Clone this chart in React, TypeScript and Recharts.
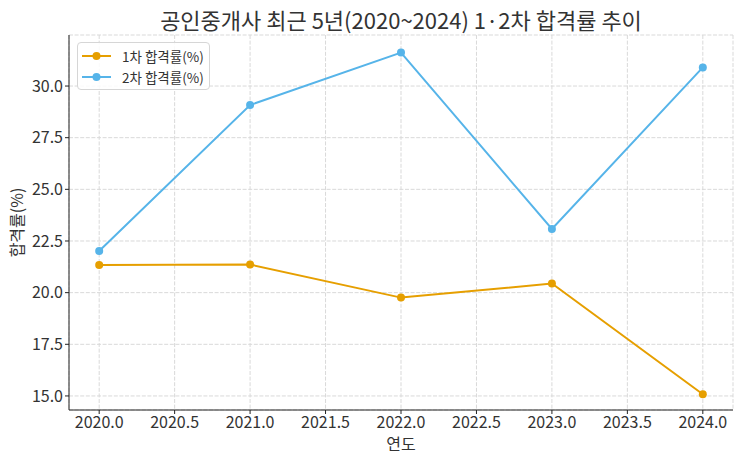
import React from 'react'
import { LineChart, Line, XAxis, YAxis, CartesianGrid, Label } from 'recharts'

const years = [2020, 2021, 2022, 2023, 2024]
const firstRate = [21.34, 21.36, 19.76, 20.44, 15.08]
const secondRate = [22.02, 29.08, 31.62, 23.08, 30.9]
const xTicks = [2020, 2020.5, 2021, 2021.5, 2022, 2022.5, 2023, 2023.5, 2024]
const yTicks = [15, 17.5, 20, 22.5, 25, 27.5, 30]
const seriesNames = ['1차 합격률(%)', '2차 합격률(%)']

const data = years.map((y, i) => ({ year: y, first: firstRate[i], second: secondRate[i] }))

const FONT = '"Noto Sans CJK KR", "Noto Sans", sans-serif'
const ORANGE = '#E69F00'
const BLUE = '#56B4E9'

function LegendBox() {
    const items = [
        { name: seriesNames[0], color: ORANGE },
        { name: seriesNames[1], color: BLUE },
    ]
    return (
        <div style={{
            position: 'absolute', left: 77, top: 42, width: 133, height: 48,
            border: '1px solid #d6d6d6', borderRadius: 4, background: 'rgba(255,255,255,0.85)',
            boxSizing: 'border-box', padding: '3px 0 0 4px', fontFamily: FONT, fontSize: 13.5, color: '#333',
        }}>
            {items.map(it => (
                <div key={it.name} style={{ display: 'flex', alignItems: 'center', height: 20.5 }}>
                    <svg width={30} height={12} style={{ marginRight: 10 }}>
                        <line x1={0} y1={6} x2={29} y2={6} stroke={it.color} strokeWidth={2} />
                        <circle cx={14.5} cy={6} r={4} fill={it.color} />
                    </svg>
                    <span>{it.name}</span>
                </div>
            ))}
        </div>
    )
}

export default function App() {
    const tickStyle = { fill: '#333', fontSize: 16, fontFamily: FONT }
    return (
        <div style={{ position: 'absolute', left: 0, top: 0, width: 743, height: 466, background: '#fff', fontFamily: FONT }}>
            <div style={{
                position: 'absolute', left: 69, width: 664, top: 3, textAlign: 'center',
                fontSize: 22, lineHeight: '32px', color: '#333', fontFamily: FONT,
            }}>
                공인중개사 최근 5년(2020~2024) 1·2차 합격률 추이
            </div>
            <LineChart width={743} height={466} data={data} margin={{ top: 35, right: 10, left: 0, bottom: 0 }}>
                <CartesianGrid stroke="#d9d9d9" strokeDasharray="4 1.6" />
                <XAxis
                    dataKey="year" type="number" domain={[2019.8, 2024.2]} ticks={xTicks}
                    tickFormatter={(v: number) => v.toFixed(1)} allowDataOverflow
                    height={56} tick={tickStyle} tickSize={4} tickMargin={3}
                    axisLine={{ stroke: '#222' }} tickLine={{ stroke: '#222' }}
                >
                    <Label value="연도" position="insideBottom" offset={16} style={{ fill: '#333', fontSize: 16, fontFamily: FONT }} />
                </XAxis>
                <YAxis
                    type="number" domain={[14.32, 32.47]} ticks={yTicks} allowDataOverflow
                    tickFormatter={(v: number) => v.toFixed(1)}
                    width={69} tick={tickStyle} tickSize={4} tickMargin={2}
                    axisLine={{ stroke: '#222' }} tickLine={{ stroke: '#222' }}
                >
                    <Label value="합격률(%)" angle={-90} position="insideLeft" offset={17}
                        style={{ textAnchor: 'middle', fill: '#333', fontSize: 16, fontFamily: FONT }} />
                </YAxis>
                <Line dataKey="first" name={seriesNames[0]} stroke={ORANGE} strokeWidth={2}
                    dot={{ r: 4, fill: ORANGE, stroke: ORANGE, strokeWidth: 0 }} isAnimationActive={false} />
                <Line dataKey="second" name={seriesNames[1]} stroke={BLUE} strokeWidth={2}
                    dot={{ r: 4, fill: BLUE, stroke: BLUE, strokeWidth: 0 }} isAnimationActive={false} />
            </LineChart>
            <LegendBox />
        </div>
    )
}
